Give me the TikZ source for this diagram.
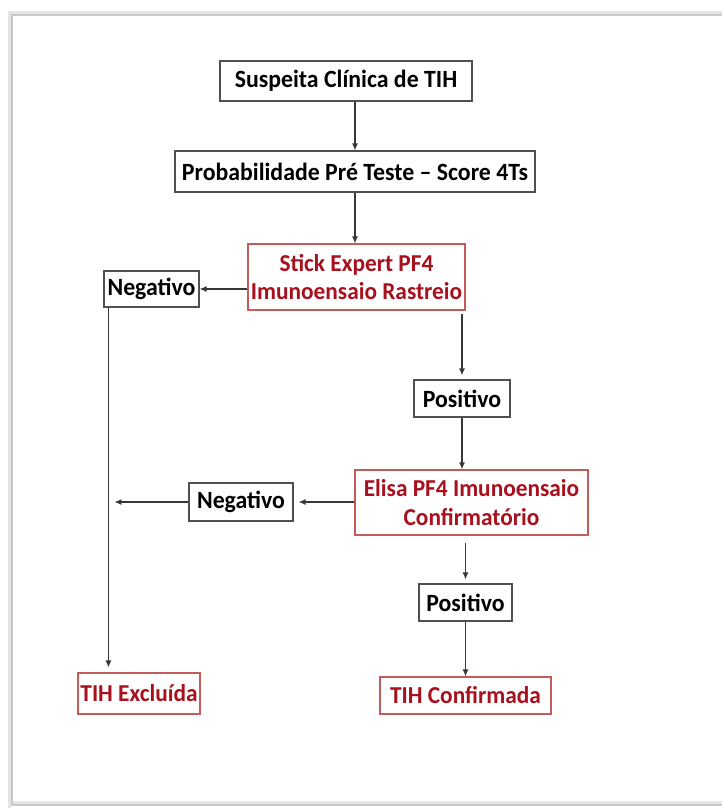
\documentclass[tikz,border=0pt]{standalone}
\usepackage{fontspec}
\setmainfont{Carlito}[FakeStretch=0.96]
\usetikzlibrary{arrows.meta}
\definecolor{txtred}{RGB}{168,16,30}
\definecolor{bordred}{RGB}{196,92,92}
\definecolor{bordgray}{RGB}{80,80,80}
\definecolor{linegray}{RGB}{55,55,55}
\definecolor{frameA}{RGB}{200,200,200}
\definecolor{frameB}{RGB}{228,228,228}
\begin{document}
\begin{tikzpicture}[x=1pt,y=-1pt,
  blackbox/.style={draw=bordgray, line width=1.1pt, fill=white, inner sep=0pt,
    font=\bfseries\fontsize{24.8}{29}\selectfont, text=black},
  redbox/.style={draw=bordred, line width=1.1pt, fill=white, inner sep=0pt,
    font=\bfseries\fontsize{24.3}{28.5}\selectfont, text=txtred, align=center},
  conn/.style={draw=linegray, line width=1.2pt, -{Latex[length=7pt,width=6pt]}}]
\useasboundingbox (0,0) rectangle (722,808);
\fill[white] (0,0) rectangle (722,808);
% frame with soft shadow
\draw[frameB, line width=3pt] (722,12.5) -- (9.5,12.5) -- (9.5,807.5);
\draw[frameB, line width=3pt] (9.5,802) -- (722,802);
\draw[frameA, line width=2pt] (722,15) -- (12,15) -- (12,805) -- (722,805);

\node[blackbox, minimum width=252pt, minimum height=40pt] (s1) at (346,81) {Suspeita Clínica de TIH};
\node[blackbox, minimum width=360pt, minimum height=41pt] (s2) at (355,171.5) {Probabilidade Pré Teste – Score 4Ts};
\node[redbox, minimum width=217pt, minimum height=66pt] (stick) at (356.5,277) {Stick Expert PF4\\Imunoensaio Rastreio};
\node[blackbox, minimum width=95pt, minimum height=36pt] (neg1) at (151.5,289) {Negativo};
\node[blackbox, minimum width=96pt, minimum height=37pt] (pos1) at (462,398.5) {Positivo};
\node[redbox, minimum width=233pt, minimum height=65pt] (elisa) at (471.5,502.5) {Elisa PF4 Imunoensaio\\Confirmatório};
\node[blackbox, minimum width=104pt, minimum height=38pt] (neg2) at (241,502) {Negativo};
\node[blackbox, minimum width=93pt, minimum height=37pt] (pos2) at (465.5,602.5) {Positivo};
\node[redbox, minimum width=122pt, minimum height=41pt] (excl) at (139,693.5) {TIH Excluída};
\node[redbox, minimum width=171pt, minimum height=37pt] (conf) at (465.5,695.5) {TIH Confirmada};

\coordinate (n1b) at ([xshift=5pt]neg1.south west);

\draw[conn] (s2.north |- s1.south) -- (s2.north);
\draw[conn] (s2.south) -- (s2.south |- stick.north);
\draw[conn] (stick.west |- neg1.east) -- (neg1.east);
\draw[conn, shorten >=5pt] (n1b) -- (n1b |- excl.north);
\draw[conn, shorten <=3pt, shorten >=4pt] (pos1.north |- stick.south) -- (pos1.north);
\draw[conn] (pos1.south) -- (pos1.south |- elisa.north);
\draw[conn, shorten >=5pt] (elisa.west |- neg2.east) -- (neg2.east);
\draw[conn, shorten >=6pt] (neg2.west) -- (n1b |- neg2.west);
\draw[conn, shorten <=7pt, shorten >=4pt] (pos2.north |- elisa.south) -- (pos2.north);
\draw[conn] (pos2.south) -- (pos2.south |- conf.north);
\end{tikzpicture}
\end{document}
